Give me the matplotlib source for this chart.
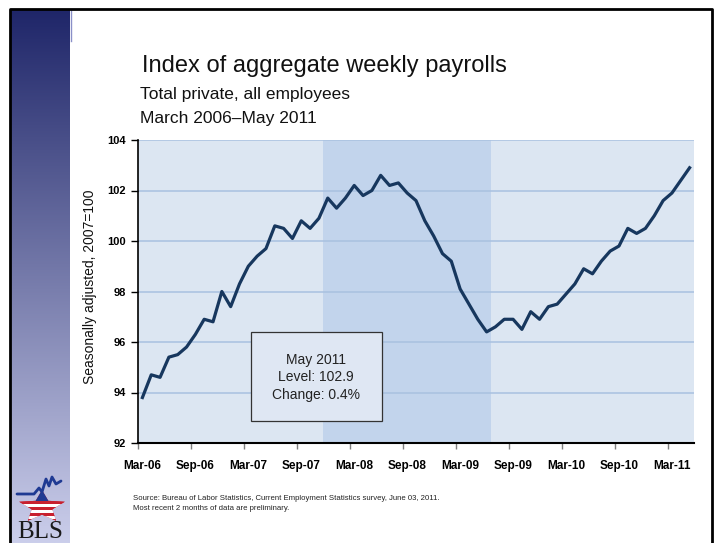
import matplotlib
matplotlib.use("Agg")
import matplotlib.pyplot as plt
import numpy as np
import pandas as pd
from matplotlib.patches import Rectangle, Polygon

# ---- data ----
dates = pd.date_range("2006-03-01", "2011-05-01", freq="MS")
month_labels = [d.strftime("%b-%y") for d in dates]
payroll_index = [
    93.8, 94.7, 94.6, 95.4, 95.5, 95.8, 96.3, 96.9, 96.8, 98.0,
    97.4, 98.3, 99.0, 99.4, 99.7, 100.6, 100.5, 100.1, 100.8, 100.5,
    100.9, 101.7, 101.3, 101.7, 102.2, 101.8, 102.0, 102.6, 102.2, 102.3,
    101.9, 101.6, 100.8, 100.2, 99.5, 99.2, 98.1, 97.5, 96.9, 96.4,
    96.6, 96.9, 96.9, 96.5, 97.2, 96.9, 97.4, 97.5, 97.9, 98.3,
    98.9, 98.7, 99.2, 99.6, 99.8, 100.5, 100.3, 100.5, 101.0, 101.6,
    101.9, 102.4, 102.9,
]
recession = ("Dec-07", "Jun-09")
y_ticks = [92, 94, 96, 98, 100, 102, 104]

# ---- style ----
PLOT_BG = "#dce6f2"
GRID = "#a9c1e0"
LINE = "#17375e"
SHADE = "#a7c0e2"
SHADE_H = "#c2d4ec"
SANS = ["Liberation Sans", "DejaVu Sans"]

plt.rcParams["font.family"] = SANS
plt.rcParams["hatch.linewidth"] = 0.5

W, H = 720, 543
fig = plt.figure(figsize=(W / 100, H / 100), dpi=100)
fig.patch.set_facecolor("white")

# decoration layer in pixel coordinates
deco = fig.add_axes([0, 0, 1, 1], zorder=-1)
deco.set_xlim(0, W); deco.set_ylim(H, 0)
deco.axis("off")

# left sidebar gradient
grad = np.linspace(0, 1, 256)[:, None]
top = np.array([0x1f, 0x26, 0x69]) / 255
bot = np.array([0xcb, 0xce, 0xeb]) / 255
img = top[None, None, :] * (1 - grad[:, :, None]) + bot[None, None, :] * grad[:, :, None]
deco.imshow(img, extent=(11, 70, H, 10), aspect="auto", zorder=1)
deco.plot([70.5, 70.5], [10, 41], color="#8a90c8", lw=1, zorder=2)

# frame
deco.plot([9.5, 9.5, 711.5, 711.5], [H, 9, 9, H], color="black", lw=2, zorder=3)

# BLS logo
cx, cy, rx, ry = 42, 507, 24, 17
ang = np.deg2rad(90 + np.arange(10) * 36)
rad = np.where(np.arange(10) % 2 == 0, 1.0, 0.45)
star = Polygon(np.c_[cx + rx * rad * np.cos(ang), cy - ry * rad * np.sin(ang)],
               closed=True, fc="#c8202f", ec="none", zorder=3)
deco.add_patch(star)
for i, yy in enumerate(np.arange(cy - 18, cy + 18, 3.0)):
    if yy < cy - 7:
        c = "#1f3a93"
    else:
        c = "white" if i % 2 else "#c8202f"
    r = Rectangle((cx - 30, yy), 60, 3.0, fc=c, ec="none", zorder=4)
    deco.add_patch(r)
    r.set_clip_path(star)
deco.plot([17, 34, 39, 42, 46, 49, 52, 56, 61],
          [494, 494, 488, 492, 479, 486, 477, 484, 481],
          color="#1f3a93", lw=2, zorder=5, solid_capstyle="round")
deco.text(40, 532, "BLS", ha="center", va="center", fontsize=18,
          family=["Liberation Serif", "DejaVu Serif"], color="#1a1a1a", zorder=5)

# titles
deco.text(142, 66, "Index of aggregate weekly payrolls", fontsize=17,
          ha="left", va="center", color="#111111")
deco.text(140, 94, "Total private, all employees", fontsize=12.5,
          ha="left", va="center", color="#111111")
deco.text(140, 118, "March 2006\u2013May 2011", fontsize=12.5,
          ha="left", va="center", color="#111111")
deco.text(90, 287, "Seasonally adjusted, 2007=100", rotation=90, fontsize=10,
          ha="center", va="center", color="#111111")
deco.text(133, 498, "Source: Bureau of Labor Statistics, Current Employment Statistics "
          "survey, June 03, 2011.", fontsize=5.6, ha="left", va="center", color="#222222")
deco.text(133, 509, "Most recent 2 months of data are preliminary.", fontsize=5.6,
          ha="left", va="center", color="#222222")

# ---- main chart ----
ax = fig.add_axes([138 / W, 1 - 443 / H, 556 / W, 303 / H])
ax.set_facecolor(PLOT_BG)
x = np.arange(len(payroll_index))
r0 = month_labels.index(recession[0]); r1 = month_labels.index(recession[1])
ax.axvspan(r0 - 0.5, r1 + 0.5, facecolor=SHADE, edgecolor=SHADE_H, hatch="+" * 14,
           lw=0, zorder=1)
ax.plot(x, payroll_index, color=LINE, lw=2.3, zorder=3)

ax.set_xlim(-0.5, len(x) - 0.5)
ax.set_ylim(y_ticks[0], y_ticks[-1])
ax.set_yticks(y_ticks)
ax.set_yticklabels([str(v) for v in y_ticks], fontsize=8, fontweight="bold")
ax.yaxis.grid(True, color=GRID, lw=1.1)
ax.tick_params(axis="y", length=5, width=1, color="black", pad=4)

ax.set_xticks(np.arange(-0.5, len(x) - 1, 6))
ax.set_xticklabels([])
ax.set_xticks(x[::6], minor=True)
ax.set_xticklabels(month_labels[::6], minor=True, fontsize=8.5, fontweight="bold")
ax.tick_params(axis="x", which="major", length=4, width=1, color="#7f7f7f")
ax.tick_params(axis="x", which="minor", length=0, pad=12)

for s in ("top", "right"):
    ax.spines[s].set_visible(False)
ax.spines["left"].set_linewidth(1.2)
ax.spines["bottom"].set_linewidth(1.5)

# annotation box
ax.add_patch(Rectangle((0.2027, 0.0726), 0.2356, 0.2947, transform=ax.transAxes,
                       fc="#dfe7f3", ec="#333333", lw=0.9, zorder=5))
ax.text(0.320, 0.217, "May 2011\nLevel: 102.9\nChange: 0.4%", transform=ax.transAxes,
        ha="center", va="center", fontsize=10, linespacing=1.3, color="#222222",
        zorder=6)

plt.savefig("out.png", dpi=100, facecolor="white")
